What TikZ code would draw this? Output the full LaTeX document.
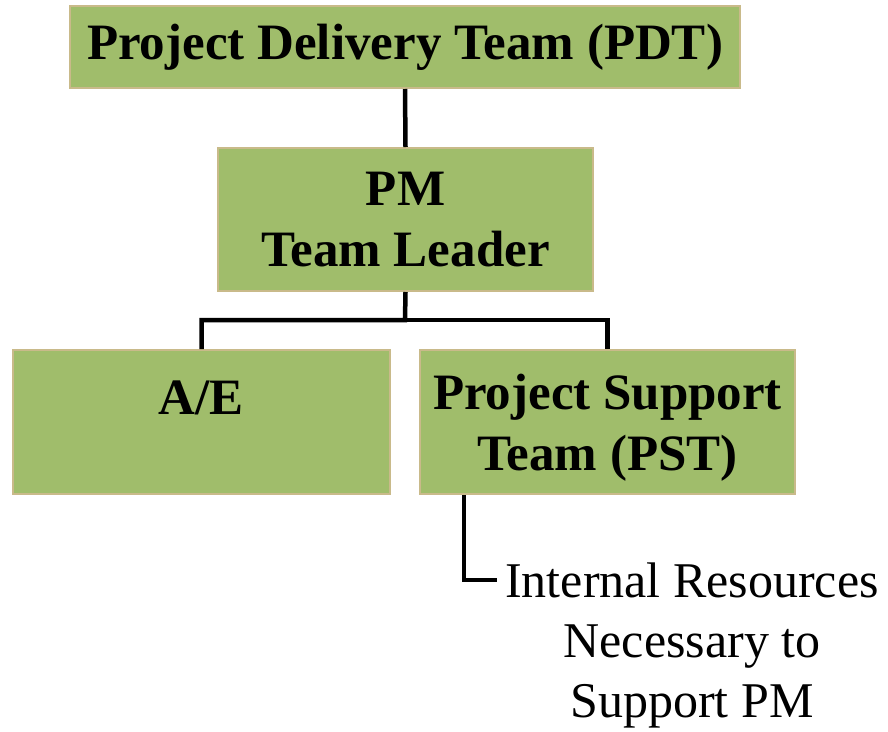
\documentclass[tikz,border=0pt]{standalone}
\usepackage{fontspec}
\setmainfont{Liberation Serif}
\usepackage{tikz}
\usetikzlibrary{positioning}
\definecolor{boxgreen}{RGB}{160,189,107}
\definecolor{boxrim}{RGB}{201,186,138}

\begin{document}
\begin{tikzpicture}[x=1pt, y=-1pt,
	teambox/.style={rectangle, fill=boxgreen, draw=boxrim, line width=2pt, align=center,
		inner sep=0pt, font=\bfseries\fontsize{51}{61}\selectfont},
	link/.style={draw=black, line width=4.5pt}
	]
	\useasboundingbox (0,0) rectangle (888,731);
	
	% Kaesten
	\node[teambox, minimum width=670pt, minimum height=82pt] (pdt) at (405,47) {\raisebox{-2pt}{Project Delivery Team (PDT)}};
	\node[teambox, minimum width=375pt, minimum height=143pt] (pm) at (405.5,219.5) {PM\\Team Leader};
	\node[teambox, minimum width=377pt, minimum height=144pt] (ae) at (201.5,422) {};
	\node[teambox, minimum width=375pt, minimum height=144pt] (pst) at (607.5,422) {};
	\node[teambox, draw=none, fill=none] (aetext) at (201.5,428) {A/E\\~};
	\node[teambox, draw=none, fill=none] (psttext) at (607.5,428) {Project Support\\Team (PST)};
	
	% Beschriftung unten
	\node[align=center, anchor=north, inner sep=0pt, font=\fontsize{50}{60}\selectfont] (res) at (692,563)
		{Internal Resources\\Necessary to\\Support PM};
	
	% Verbindungen
	\coordinate (fork) at (405,320);
	\coordinate (resend) at (497,580);
	\draw[link] (pdt.south) -- (pm.north);
	\draw[link] (pm.south) -- (fork) -| (ae.north);
	\draw[link] (fork) -| (pst.north);
	\draw[link] ([xshift=45pt]pst.south west) |- (resend);
\end{tikzpicture}
\end{document}
